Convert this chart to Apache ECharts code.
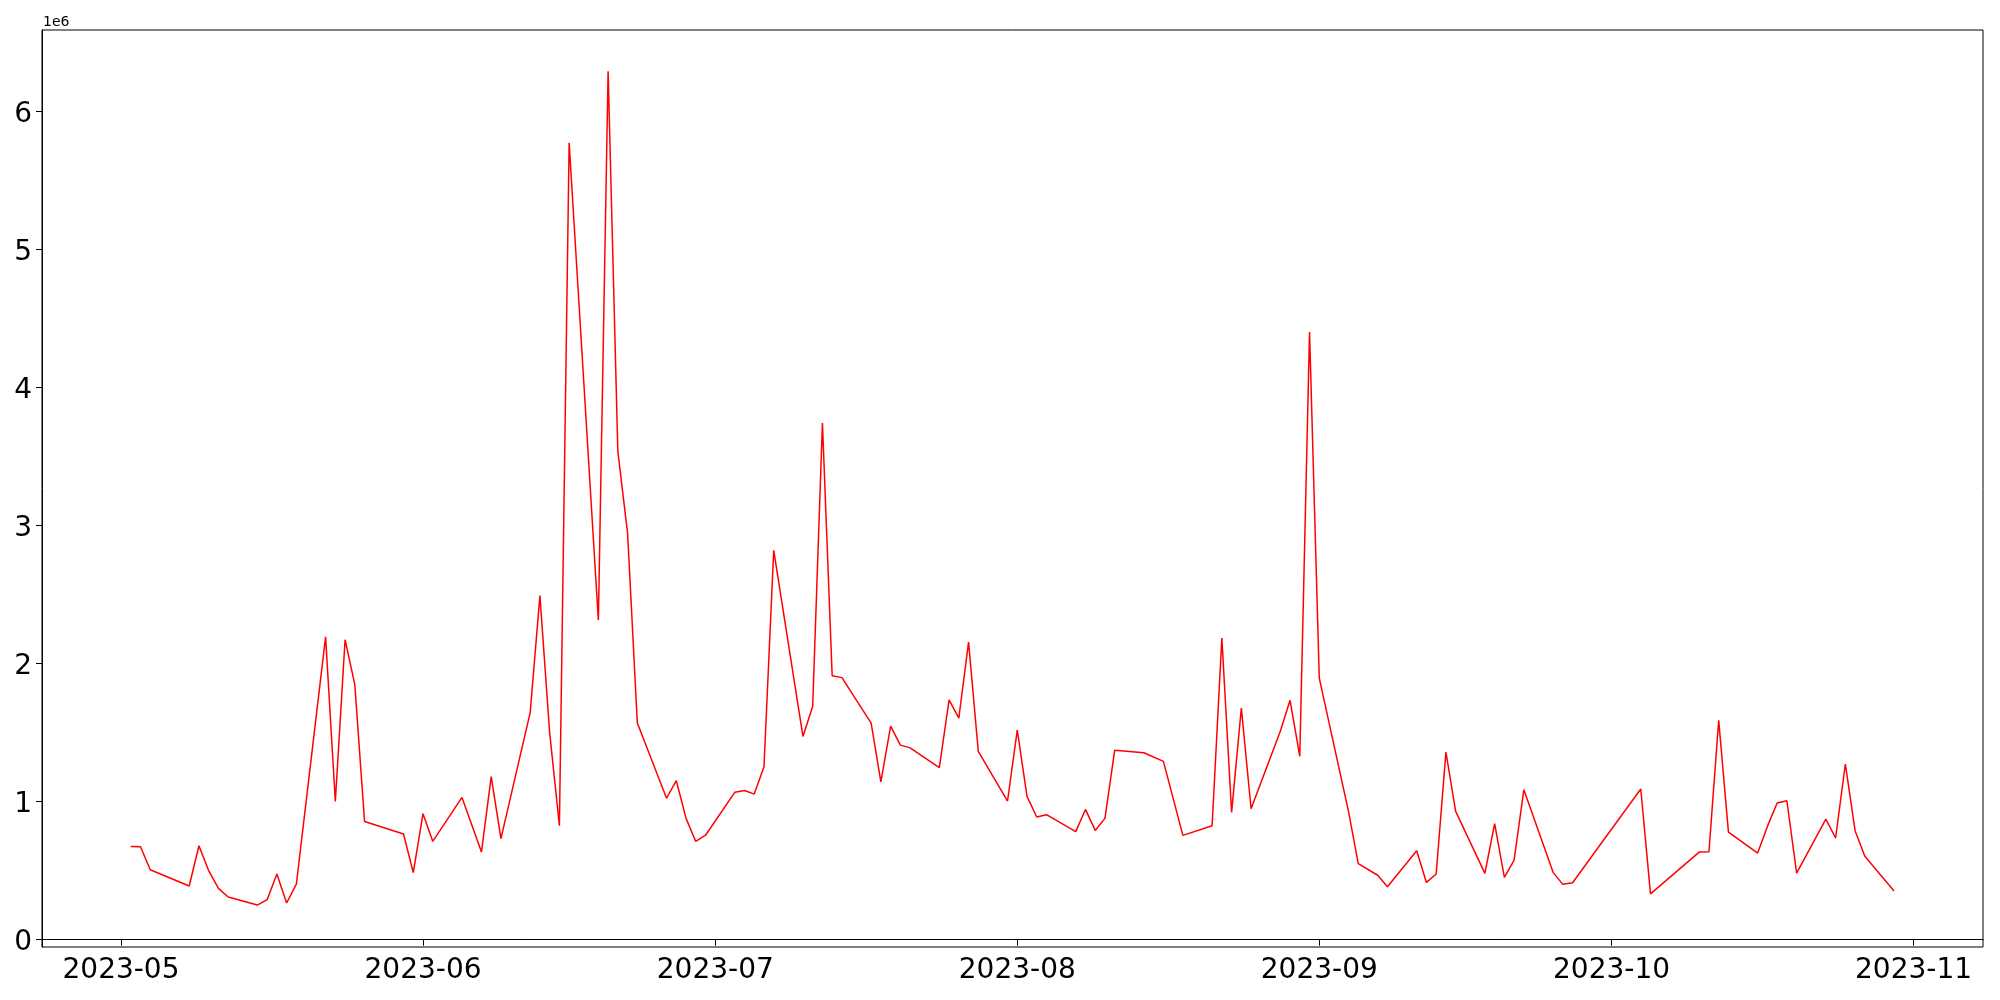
<!DOCTYPE html>
<html>
<head>
<meta charset="utf-8">
<script src="https://cdn.jsdelivr.net/npm/echarts@6/dist/echarts.min.js"></script>
<style>
html,body{margin:0;padding:0;background:#fff;}
#c{width:2000px;height:1000px;}
</style>
</head>
<body>
<div id="c"></div>
<script>
const dates = [
"2023-05-02","2023-05-03","2023-05-04","2023-05-08","2023-05-09","2023-05-10","2023-05-11","2023-05-12",
"2023-05-15","2023-05-16","2023-05-17","2023-05-18","2023-05-19",
"2023-05-22","2023-05-23","2023-05-24","2023-05-25","2023-05-26",
"2023-05-30","2023-05-31","2023-06-01","2023-06-02",
"2023-06-05","2023-06-07","2023-06-08","2023-06-09",
"2023-06-12","2023-06-13","2023-06-14","2023-06-15","2023-06-16",
"2023-06-19","2023-06-20","2023-06-21","2023-06-22","2023-06-23",
"2023-06-26","2023-06-27","2023-06-28","2023-06-29","2023-06-30",
"2023-07-03","2023-07-04","2023-07-05","2023-07-06","2023-07-07",
"2023-07-10","2023-07-11","2023-07-12","2023-07-13","2023-07-14",
"2023-07-17","2023-07-18","2023-07-19","2023-07-20","2023-07-21",
"2023-07-24","2023-07-25","2023-07-26","2023-07-27","2023-07-28",
"2023-07-31","2023-08-01","2023-08-02","2023-08-03","2023-08-04",
"2023-08-07","2023-08-08","2023-08-09","2023-08-10","2023-08-11",
"2023-08-14","2023-08-16","2023-08-18",
"2023-08-21","2023-08-22","2023-08-23","2023-08-24","2023-08-25",
"2023-08-28","2023-08-29","2023-08-30","2023-08-31","2023-09-01",
"2023-09-04","2023-09-05","2023-09-07","2023-09-08",
"2023-09-11","2023-09-12","2023-09-13","2023-09-14","2023-09-15",
"2023-09-18","2023-09-19","2023-09-20","2023-09-21","2023-09-22",
"2023-09-25","2023-09-26","2023-09-27",
"2023-10-04","2023-10-05",
"2023-10-10","2023-10-11","2023-10-12","2023-10-13",
"2023-10-16","2023-10-17","2023-10-18","2023-10-19","2023-10-20",
"2023-10-23","2023-10-24","2023-10-25","2023-10-26","2023-10-27",
"2023-10-30"
];
const values = [
676000,674000,507000,389000,681000,500000,372000,309000,
251000,290000,476000,266000,403000,
2195000,1002000,2174000,1848000,857000,
766000,486000,913000,713000,
1031000,635000,1181000,732000,
1645000,2493000,1500000,826000,5775000,
2315000,6293000,3538000,2945000,1570000,
1025000,1152000,879000,712000,757000,
1068000,1081000,1055000,1253000,2822000,
1473000,1692000,3744000,1912000,1899000,
1569000,1143000,1547000,1410000,1390000,
1247000,1738000,1605000,2156000,1364000,
1005000,1519000,1039000,889000,906000,
783000,944000,792000,879000,1372000,
1355000,1292000,756000,
826000,2186000,923000,1679000,949000,
1510000,1735000,1329000,4404000,1896000,
930000,552000,467000,384000,
645000,415000,476000,1359000,930000,
481000,841000,452000,577000,1087000,
488000,401000,413000,
1092000,332000,
635000,638000,1589000,780000,
628000,821000,990000,1007000,483000,
874000,737000,1273000,790000,604000,
353000
];
const xTickLabels = ["2023-05","2023-06","2023-07","2023-08","2023-09","2023-10","2023-11"];
const yTickValues = [0,1,2,3,4,5,6];
const yScaleText = "1e6";

function ts(s){ const p = s.split('-').map(Number); return Date.UTC(p[0], p[1]-1, p[2] || 1); }
const DAY = 86400000;
const base = ts("2023-05-01");
const xMin = base - 8.11 * DAY;
const xMax = base + 191.13 * DAY;
const xTicks = xTickLabels.map(ts);
const yTicks = yTickValues.map(v => v * 1e6);
const seriesData = dates.map((d, i) => [ts(d), values[i]]);

const chart = echarts.init(document.getElementById('c'), null, {renderer: 'canvas'});
const font = 'DejaVu Sans';
chart.setOption({
  animation: false,
  backgroundColor: '#fff',
  textStyle: {fontFamily: font},
  grid: {left: 42, right: 17, top: 30, bottom: 53, containLabel: false, outerBoundsMode: 'none',
         show: true, borderColor: '#000', borderWidth: 1, backgroundColor: 'transparent'},
  xAxis: {
    type: 'value', min: xMin, max: xMax,
    splitLine: {show: false},
    axisLine: {show: true, lineStyle: {color: '#000', width: 1}},
    axisTick: {show: true, length: 6, lineStyle: {color: '#000', width: 1}, customValues: xTicks},
    axisLabel: {
      customValues: xTicks, color: '#000', fontSize: 28, fontFamily: font, margin: 10,
      formatter: function (v) { const d = new Date(v); return d.getUTCFullYear() + '-' + String(d.getUTCMonth()+1).padStart(2,'0'); }
    }
  },
  yAxis: {
    type: 'value', min: -52900, max: 6592000,
    splitLine: {show: false},
    axisLine: {show: true, lineStyle: {color: '#000', width: 1}},
    axisTick: {show: true, length: 6, lineStyle: {color: '#000', width: 1}, customValues: yTicks},
    axisLabel: {
      customValues: yTicks, color: '#000', fontSize: 28, fontFamily: font, margin: 10,
      formatter: function (v) { return '{a|' + String(Math.round(v / 1e6)) + '}'; },
      rich: {a: {fontSize: 28, fontFamily: font, color: '#000', padding: [6, 0, 0, 0]}}
    }
  },
  graphic: [{
    type: 'text', left: 43, top: 15,
    style: {text: yScaleText, fontSize: 14, fontFamily: font, fill: '#000'}
  }],
  series: [{
    type: 'line', data: seriesData, showSymbol: false, symbol: 'none',
    lineStyle: {color: '#ff0000', width: 1.5}, itemStyle: {color: '#ff0000'}
  }]
});
</script>
</body>
</html>
